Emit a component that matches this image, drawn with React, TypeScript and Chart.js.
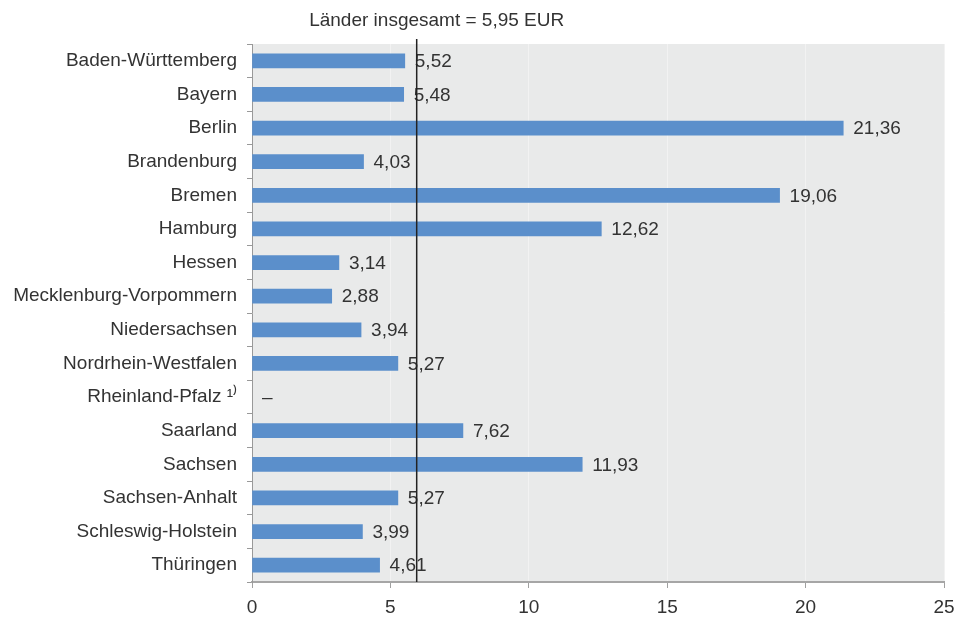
import React, { useEffect, useRef } from 'react';
import { Chart, registerables } from 'chart.js';

Chart.register(...registerables);

const categories = [
  'Baden-Württemberg',
  'Bayern',
  'Berlin',
  'Brandenburg',
  'Bremen',
  'Hamburg',
  'Hessen',
  'Mecklenburg-Vorpommern',
  'Niedersachsen',
  'Nordrhein-Westfalen',
  'Rheinland-Pfalz ¹⁾',
  'Saarland',
  'Sachsen',
  'Sachsen-Anhalt',
  'Schleswig-Holstein',
  'Thüringen',
];

const values: (number | null)[] = [
  5.52, 5.48, 21.36, 4.03, 19.06, 12.62, 3.14, 2.88, 3.94, 5.27, null, 7.62, 11.93, 5.27, 3.99, 4.61,
];

const xMin = 0;
const xMax = 25;
const xStep = 5;

const averageValue = 5.95;
const averageLabel = 'Länder insgesamt = 5,95 EUR';
const missingLabel = '–';

const FONT = '"Liberation Sans", Arial, sans-serif';
const FONT_SIZE = 19;
const TEXT_COLOR = '#333333';

const fmt = (v: number) => v.toFixed(2).replace('.', ',');

export default function App() {
  const canvasRef = useRef<HTMLCanvasElement | null>(null);

  useEffect(() => {
    const canvas = canvasRef.current;
    if (!canvas) return;

    const backgroundPlugin = {
      id: 'plotBackground',
      beforeDraw(chart: any) {
        const { ctx, chartArea } = chart;
        ctx.save();
        ctx.fillStyle = '#e9eaea';
        ctx.fillRect(chartArea.left, chartArea.top, chartArea.right - chartArea.left, chartArea.bottom - chartArea.top);
        ctx.restore();
      },
    };

    const annotationsPlugin = {
      id: 'annotations',
      afterDatasetsDraw(chart: any) {
        const { ctx, chartArea } = chart;
        const xScale = chart.scales.x;
        const yScale = chart.scales.y;
        ctx.save();
        ctx.font = `${FONT_SIZE}px ${FONT}`;
        ctx.fillStyle = TEXT_COLOR;
        ctx.textBaseline = 'middle';
        ctx.textAlign = 'left';
        values.forEach((v, i) => {
          const y = yScale.getPixelForValue(i) + 1;
          if (v === null || v === undefined) {
            ctx.fillText(missingLabel, xScale.getPixelForValue(0) + 10, y);
          } else {
            ctx.fillText(fmt(v), xScale.getPixelForValue(v) + 10, y);
          }
        });
        // average line
        const xa = xScale.getPixelForValue(averageValue);
        ctx.strokeStyle = '#222222';
        ctx.lineWidth = 1.5;
        ctx.beginPath();
        ctx.moveTo(xa, chartArea.top - 5);
        ctx.lineTo(xa, chartArea.bottom);
        ctx.stroke();
        ctx.textAlign = 'center';
        ctx.textBaseline = 'middle';
        ctx.fillText(averageLabel, xa + 20, 21);
        ctx.restore();
      },
    };

    const chart = new Chart(canvas, {
      type: 'bar',
      data: {
        labels: categories,
        datasets: [
          {
            data: values as any,
            backgroundColor: '#5b8fcb',
            borderWidth: 0,
            barThickness: 14,
          },
        ],
      },
      options: {
        indexAxis: 'y',
        responsive: false,
        animation: false,
        layout: { padding: { top: 44, right: 15, left: 0, bottom: 0 } },
        plugins: {
          legend: { display: false },
          tooltip: { enabled: false },
          title: { display: false },
        },
        scales: {
          x: {
            min: xMin,
            max: xMax,
            ticks: {
              stepSize: xStep,
              color: TEXT_COLOR,
              font: { family: FONT, size: FONT_SIZE },
              padding: 8,
            },
            grid: {
              color: '#f2f2f2',
              tickColor: '#a0a0a0',
              tickLength: 6,
              drawOnChartArea: true,
            },
            border: { color: '#a6a6a6', width: 2 },
            afterFit(scale: any) {
              scale.height = 35;
              scale.paddingRight = 0;
              scale.paddingLeft = 0;
            },
          },
          y: {
            ticks: {
              color: TEXT_COLOR,
              font: { family: FONT, size: FONT_SIZE },
              padding: 10,
              autoSkip: false,
            },
            grid: {
              offset: true,
              drawOnChartArea: false,
              tickLength: 5,
              color: '#999999',
            },
            border: { color: '#999999', width: 1 },
            afterFit(scale: any) {
              scale.width = 252;
            },
          },
        },
      },
      plugins: [backgroundPlugin, annotationsPlugin],
    });

    return () => chart.destroy();
  }, []);

  return (
    <div style={{ position: 'fixed', left: 0, top: 0, width: 959, height: 617, background: '#ffffff' }}>
      <canvas ref={canvasRef} width={959} height={617} style={{ display: 'block' }} />
    </div>
  );
}
